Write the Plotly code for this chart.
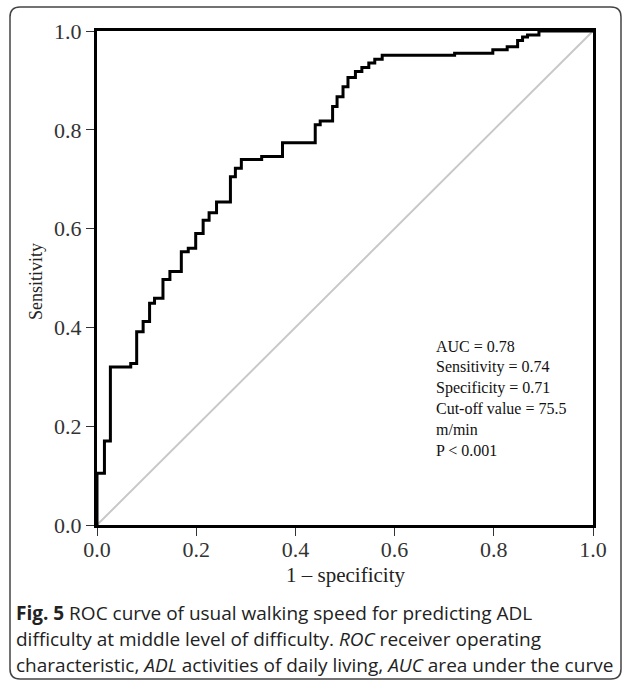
import plotly.graph_objects as go

# ROC curve corner points (1 - specificity, sensitivity)
fpr = [0.0, 0.0, 0.015, 0.027, 0.068, 0.080, 0.093, 0.106, 0.116, 0.133, 0.147,
       0.170, 0.184, 0.199, 0.214, 0.226, 0.241, 0.269, 0.279, 0.291, 0.332,
       0.374, 0.440, 0.450, 0.475, 0.484, 0.496, 0.506, 0.521, 0.534, 0.548,
       0.560, 0.575, 0.721, 0.798, 0.827, 0.848, 0.858, 0.868, 0.891, 1.0]
tpr = [0.0, 0.105, 0.170, 0.320, 0.327, 0.391, 0.412, 0.449, 0.459, 0.497, 0.513,
       0.553, 0.560, 0.590, 0.617, 0.632, 0.654, 0.705, 0.722, 0.740, 0.746,
       0.774, 0.810, 0.818, 0.847, 0.867, 0.887, 0.906, 0.918, 0.926, 0.935,
       0.943, 0.951, 0.955, 0.962, 0.968, 0.981, 0.988, 0.992, 1.0, 1.0]

ref_x = [0.0, 1.0]
ref_y = [0.0, 1.0]

tick_vals = [0.0, 0.2, 0.4, 0.6, 0.8, 1.0]
tick_text = ["0.0", "0.2", "0.4", "0.6", "0.8", "1.0"]

stats_lines = ["AUC = 0.78", "Sensitivity = 0.74", "Specificity = 0.71",
               "Cut-off value = 75.5", "m/min", "P < 0.001"]

caption_lines = [
    "<b>Fig. 5</b> ROC curve of usual walking speed for predicting ADL",
    "difficulty at middle level of difficulty. <i>ROC</i> receiver operating",
    "characteristic, <i>ADL</i> activities of daily living, <i>AUC</i> area under the curve",
]

W, H = 627, 681
L, R, T, B = 97, 34, 31, 156
PW, PH = W - L - R, H - T - B

def px(x):
    return (x - L) / PW

def py(y):
    return (H - B - y) / PH

fig = go.Figure()
fig.add_trace(go.Scatter(x=ref_x, y=ref_y, mode="lines",
                         line=dict(color="#c8c8c8", width=2), hoverinfo="skip"))
fig.add_trace(go.Scatter(x=fpr, y=tpr, mode="lines", line_shape="hv",
                         line=dict(color="black", width=3), hoverinfo="skip"))

axis_common = dict(range=[0, 1], showgrid=False, zeroline=False, showline=True,
                   linecolor="black", linewidth=3, mirror=True, ticks="outside",
                   ticklen=8, tickwidth=1, tickcolor="#333",
                   tickvals=tick_vals, ticktext=tick_text,
                   tickfont=dict(family="Liberation Serif", size=22, color="#333"))
fig.update_xaxes(ticklabelstandoff=-5, **axis_common)
fig.update_yaxes(**axis_common)

annotations = []
for i, s in enumerate(stats_lines):
    annotations.append(dict(x=0.68, y=(H - B - (346.7 + i * 20.7)) / PH,
                            xref="x", yref="paper", text=s, showarrow=False,
                            xanchor="left", yanchor="middle",
                            font=dict(family="Liberation Serif", size=16, color="#111")))

annotations.append(dict(x=px(36), y=py(282), xref="paper", yref="paper",
                        text="Sensitivity", textangle=-90, showarrow=False,
                        xanchor="center", yanchor="middle",
                        font=dict(family="Liberation Serif", size=18, color="#222")))
annotations.append(dict(x=0.5, y=py(575), xref="x", yref="paper",
                        text="1 \u2013 specificity", showarrow=False,
                        xanchor="center", yanchor="middle",
                        font=dict(family="Liberation Serif", size=21, color="#222")))

for i, s in enumerate(caption_lines):
    annotations.append(dict(x=px(14), y=py(613 + i * 26), xref="paper", yref="paper",
                            text=s, showarrow=False, xanchor="left", yanchor="middle",
                            font=dict(family="Open Sans", size=19, color="#222")))

# rounded outer frame
x0, x1, y0, y1, r = 10, 621, 7, 679, 10
def P(x, y):
    return f"{px(x):.5f},{py(y):.5f}"
path = (f"M {P(x0 + r, y0)} L {P(x1 - r, y0)} Q {P(x1, y0)} {P(x1, y0 + r)} "
        f"L {P(x1, y1 - r)} Q {P(x1, y1)} {P(x1 - r, y1)} "
        f"L {P(x0 + r, y1)} Q {P(x0, y1)} {P(x0, y1 - r)} "
        f"L {P(x0, y0 + r)} Q {P(x0, y0)} {P(x0 + r, y0)} Z")

fig.update_layout(
    width=W, height=H, autosize=False,
    margin=dict(l=L, r=R, t=T, b=B),
    plot_bgcolor="white", paper_bgcolor="white",
    showlegend=False, annotations=annotations,
    shapes=[dict(type="path", path=path, xref="paper", yref="paper",
                 line=dict(color="#444", width=1.5))],
)

fig.write_html("out.html", config={"displayModeBar": False},
               post_script="document.body.style.margin='0px';"
                           "document.body.style.overflow='hidden';")
